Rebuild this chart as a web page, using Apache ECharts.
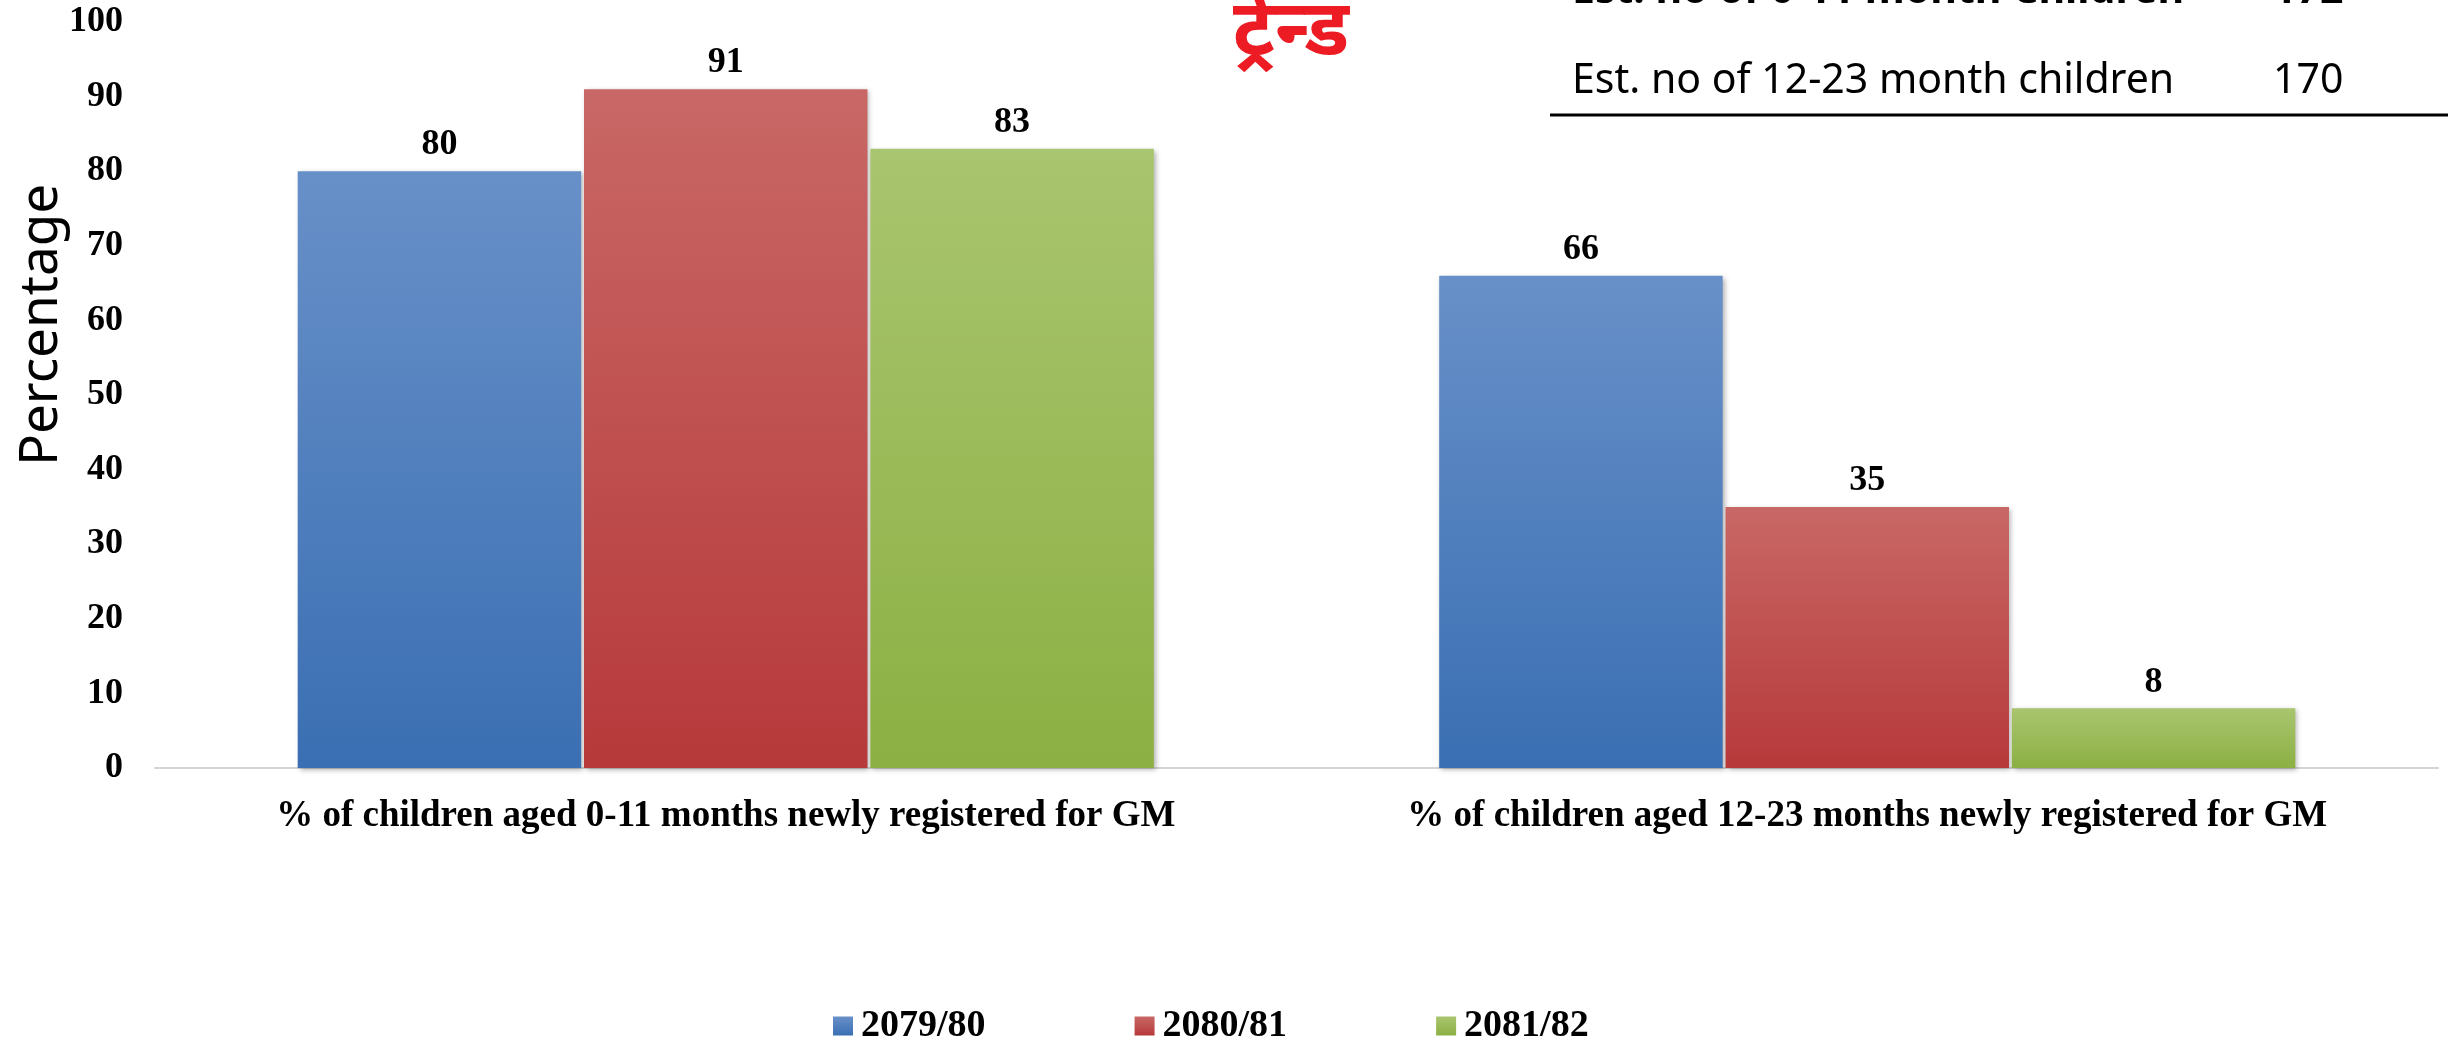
<!DOCTYPE html>
<html>
<head>
<meta charset="utf-8">
<title>GM registration trend</title>
<script src="https://cdn.jsdelivr.net/npm/echarts@6/dist/echarts.min.js"></script>
<style>
  html, body { margin: 0; padding: 0; background: #fff; }
  #chart { width: 2448px; height: 1037px; }
</style>
</head>
<body>
<div id="chart"></div>
<script>
const categories = [
  '% of children aged 0-11 months newly registered for GM',
  '% of children aged 12-23 months newly registered for GM',
]
const years = ['2079/80', '2080/81', '2081/82']
const values2079 = [80, 66]
const values2080 = [91, 35]
const values2081 = [83, 8]
const yTicks = [0, 100, 10] // min, max, interval

const tableRows = [
  ['Est. no of 0-11 month Children', '172'],
  ['Est. no of 12-23 month children', '170'],
]
const titleText = 'ट्रेन्ड'

const serif = '"Liberation Serif", "Times New Roman", serif'
const sans = '"Noto Sans", "Open Sans", sans-serif'

const barColors = [
  ['#6890c8', '#3a6fb3'],
  ['#c86866', '#b7393a'],
  ['#a9c56f', '#8cb043'],
]

function buildSeries(name, data, idx) {
  return {
    name,
    type: 'bar',
    data,
    barGap: '1%',
    barCategoryGap: '25%',
    itemStyle: {
      color: new echarts.graphic.LinearGradient(0, 0, 0, 1, [
        { offset: 0, color: barColors[idx][0] },
        { offset: 1, color: barColors[idx][1] },
      ]),
      shadowBlur: 5,
      shadowOffsetX: 2,
      shadowOffsetY: 2,
      shadowColor: 'rgba(0, 0, 0, 0.3)',
    },
    label: {
      show: true,
      position: 'top',
      distance: 8,
      color: '#000',
      fontFamily: serif,
      fontWeight: 'bold',
      fontSize: 36,
    },
  }
}

const chart = echarts.init(document.getElementById('chart'))

chart.setOption({
  animation: false,
  grid: { left: 155, right: 10, top: 22, bottom: 269, containLabel: false },
  legend: {
    left: 828,
    top: 1002,
    itemWidth: 20,
    itemHeight: 19,
    itemGap: 149,
    icon: 'rect',
    textStyle: {
      color: '#000',
      fontFamily: serif,
      fontWeight: 'bold',
      fontSize: 38,
      padding: [0, 0, 0, 3],
    },
    data: years,
  },
  xAxis: {
    type: 'category',
    data: categories,
    axisLine: { lineStyle: { color: '#d4d4d4', width: 2 } },
    axisTick: { show: false },
    axisLabel: {
      interval: 0,
      color: '#000',
      fontFamily: serif,
      fontWeight: 'bold',
      fontSize: 37,
      margin: 30,
    },
  },
  yAxis: {
    type: 'value',
    min: yTicks[0],
    max: yTicks[1],
    interval: yTicks[2],
    axisLine: { show: false },
    axisTick: { show: false },
    splitLine: { show: false },
    axisLabel: {
      color: '#000',
      fontFamily: serif,
      fontWeight: 'bold',
      fontSize: 36,
      margin: 32,
    },
  },
  graphic: [
    {
      type: 'text',
      x: 42,
      y: 325,
      rotation: Math.PI / 2,
      style: {
        text: 'Percentage',
        fill: '#000',
        font: '53px ' + sans,
        align: 'center',
        verticalAlign: 'middle',
      },
    },
    {
      type: 'text',
      x: 1233,
      y: 72,
      style: {
        text: titleText,
        fill: '#ed1c24',
        font: 'bold 78px ' + sans,
        align: 'left',
        verticalAlign: 'bottom',
      },
    },
    {
      type: 'text',
      x: 1572,
      y: 12,
      style: {
        text: tableRows[0][0],
        fill: '#000',
        font: 'bold 41px ' + sans,
        verticalAlign: 'bottom',
      },
    },
    {
      type: 'text',
      x: 2273,
      y: 12,
      style: {
        text: tableRows[0][1],
        fill: '#000',
        font: 'bold 41px ' + sans,
        verticalAlign: 'bottom',
      },
    },
    {
      type: 'text',
      x: 1572,
      y: 102,
      style: {
        text: tableRows[1][0],
        fill: '#000',
        font: '41px ' + sans,
        verticalAlign: 'bottom',
      },
    },
    {
      type: 'text',
      x: 2273,
      y: 102,
      style: {
        text: tableRows[1][1],
        fill: '#000',
        font: '41px ' + sans,
        verticalAlign: 'bottom',
      },
    },
    {
      type: 'line',
      shape: { x1: 1550, y1: 115, x2: 2448, y2: 115 },
      style: { stroke: '#000', lineWidth: 3 },
    },
  ],
  series: [
    buildSeries(years[0], values2079, 0),
    buildSeries(years[1], values2080, 1),
    buildSeries(years[2], values2081, 2),
  ],
})

window.addEventListener('resize', () => chart.resize())
</script>
</body>
</html>
